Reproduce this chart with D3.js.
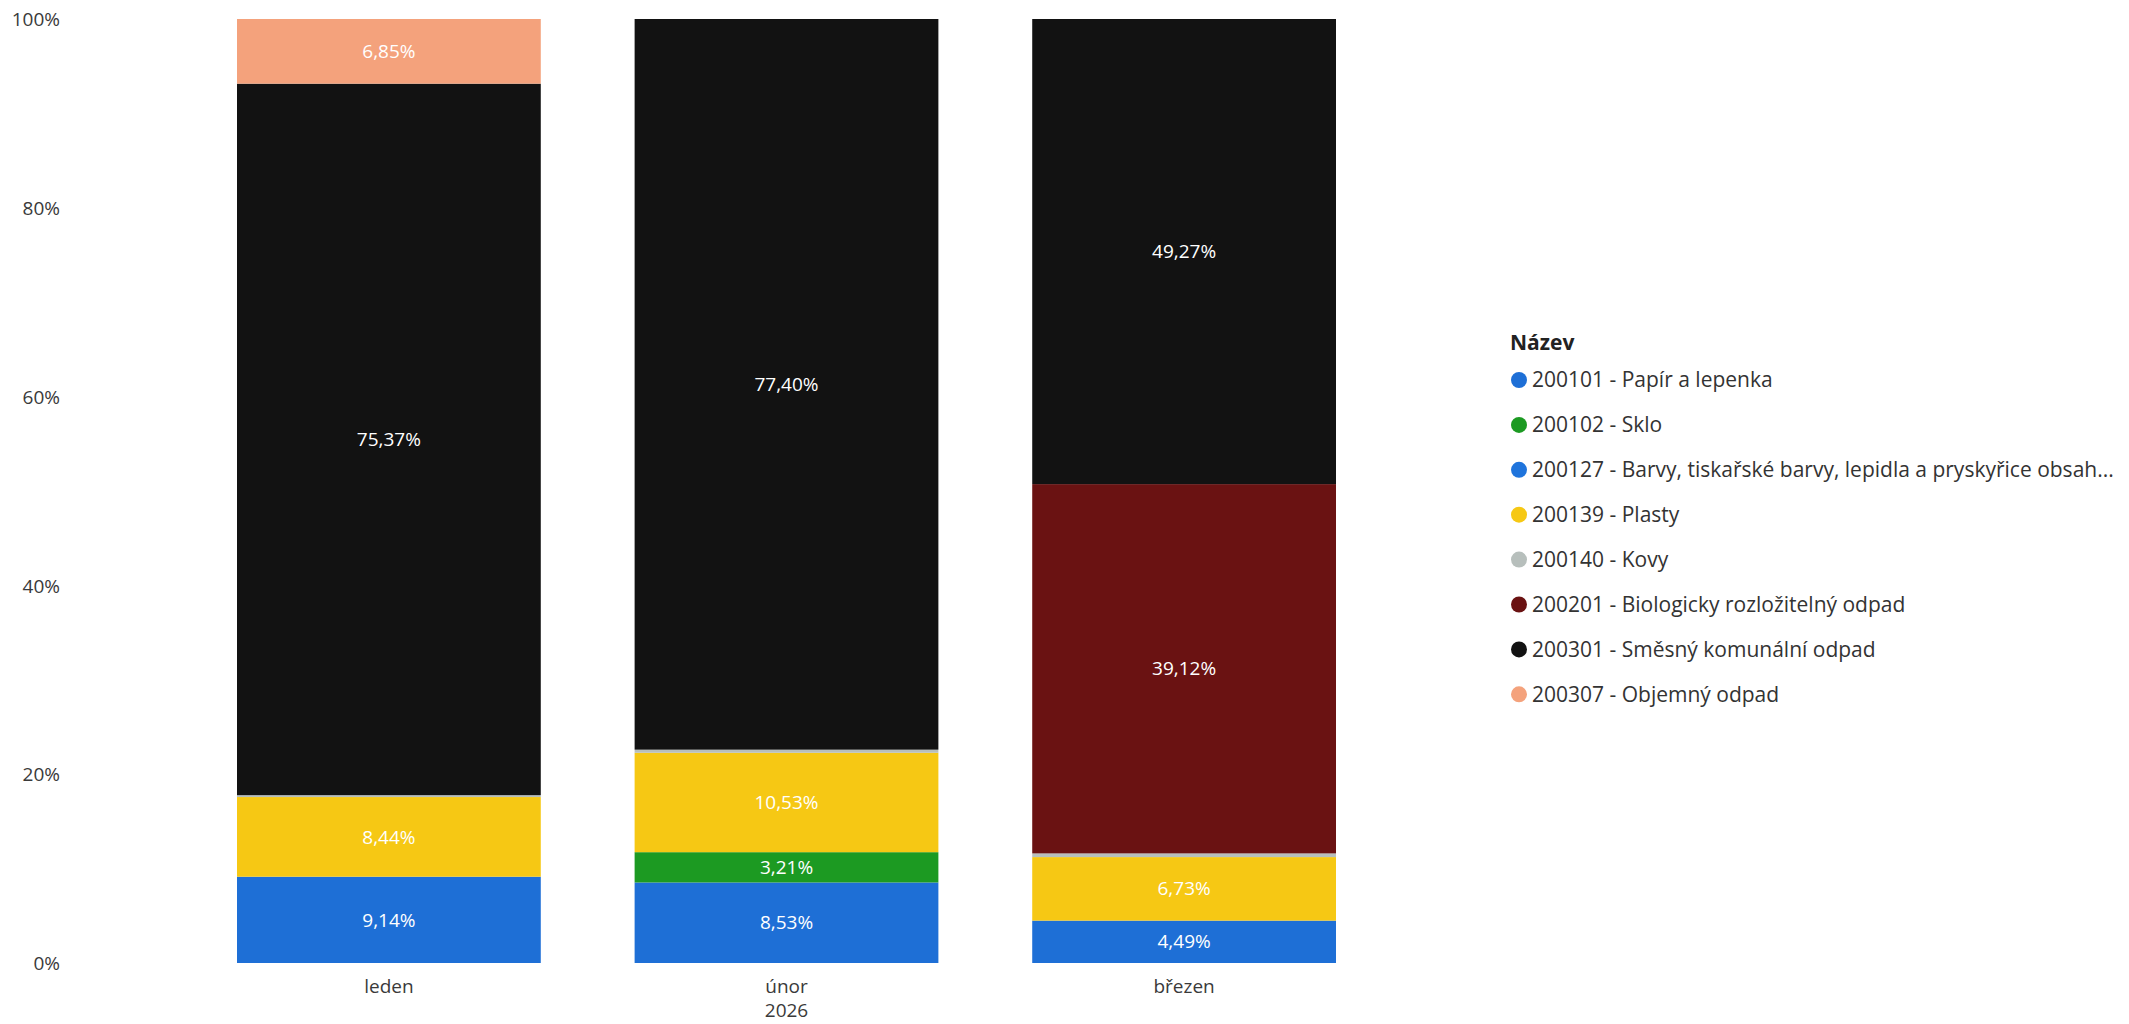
<!DOCTYPE html>
<html>
<head>
<meta charset="utf-8">
<script src="https://cdn.jsdelivr.net/npm/d3@7"></script>
<style>
  html, body { margin: 0; padding: 0; background: #ffffff; }
  svg { display: block; }
  text { font-family: "Open Sans", "Noto Sans", sans-serif; }
</style>
</head>
<body>
<svg id="chart" width="2129" height="1024"></svg>
<script>
// ---- data ----
const categories = ["leden", "únor", "březen"];
const yearLabel = "2026";
const seriesNames = [
  "200101 - Papír a lepenka",
  "200102 - Sklo",
  "200127 - Barvy, tiskařské barvy, lepidla a pryskyřice obsah...",
  "200139 - Plasty",
  "200140 - Kovy",
  "200201 - Biologicky rozložitelný odpad",
  "200301 - Směsný komunální odpad",
  "200307 - Objemný odpad"
];
const papir      = [9.14, 8.53, 4.49];
const sklo       = [0, 3.21, 0];
const barvy      = [0, 0, 0];
const plasty     = [8.44, 10.53, 6.73];
const kovy       = [0.20, 0.33, 0.39];
const bio        = [0, 0, 39.12];
const smesny     = [75.37, 77.40, 49.27];
const objemny    = [6.85, 0, 0];
const yTicks     = [0, 20, 40, 60, 80, 100];
const legendTitle = "Název";
const seriesColors = ["#1E6FD6", "#1C9A22", "#1F74DC", "#F6C814", "#B7BFBC", "#6A1212", "#121212", "#F4A27C"];

// ---- build ----
const seriesValues = [papir, sklo, barvy, plasty, kovy, bio, smesny, objemny];
const table = categories.map((c, i) => {
  const row = { cat: c };
  seriesNames.forEach((s, k) => row[s] = seriesValues[k][i]);
  return row;
});
const stack = d3.stack().keys(seriesNames)(table);

const svg = d3.select("#chart");
const x = d3.scaleBand().domain(categories).range([237, 1336]).paddingInner(0.236).paddingOuter(0);
const y = d3.scaleLinear().domain([0, 100]).range([963, 19]);
const color = d3.scaleOrdinal().domain(seriesNames).range(seriesColors);

// y axis labels
const yAxis = d3.axisLeft(y).tickValues(yTicks).tickSize(0).tickPadding(0).tickFormat(d => d + "%");
const gy = svg.append("g").attr("transform", "translate(60,0)").call(yAxis);
gy.select(".domain").remove();
gy.selectAll("text").attr("fill", "#3a3a3a").style("font-size", "19px")
  .style("font-family", "'Open Sans', sans-serif").attr("dy", "0.35em");

// bars
const layers = svg.append("g").selectAll("g").data(stack).join("g")
  .attr("fill", d => color(d.key));
layers.selectAll("rect").data(d => d.map(p => ({ p, key: d.key }))).join("rect")
  .filter(d => d.p[1] - d.p[0] > 0)
  .attr("x", d => x(d.p.data.cat))
  .attr("width", x.bandwidth())
  .attr("y", d => y(d.p[1]))
  .attr("height", d => y(d.p[0]) - y(d.p[1]));

// data labels
const fmt = v => v.toFixed(2).replace(".", ",") + "%";
const labelData = [];
stack.forEach(s => s.forEach(p => {
  const v = p[1] - p[0];
  if (v >= 1) labelData.push({ cat: p.data.cat, mid: (p[0] + p[1]) / 2, v });
}));
svg.append("g").selectAll("text").data(labelData).join("text")
  .attr("x", d => x(d.cat) + x.bandwidth() / 2)
  .attr("y", d => y(d.mid))
  .attr("dy", "0.35em")
  .attr("text-anchor", "middle")
  .attr("fill", "#ffffff")
  .style("font-size", "19px")
  .text(d => fmt(d.v));

// x axis labels
const xAxis = d3.axisBottom(x).tickSize(0).tickPadding(0);
const gx = svg.append("g").attr("transform", "translate(0,986)").call(xAxis);
gx.select(".domain").remove();
gx.selectAll("text").attr("fill", "#3a3a3a").attr("y", 0).attr("dy", "0.35em")
  .style("font-size", "19px").style("font-family", "'Open Sans', sans-serif");
svg.append("text")
  .attr("x", x(categories[1]) + x.bandwidth() / 2)
  .attr("y", 1010).attr("dy", "0.35em")
  .attr("text-anchor", "middle").attr("fill", "#3a3a3a").style("font-size", "19px")
  .text(yearLabel);

// legend
const lg = svg.append("g");
lg.append("text").attr("x", 1510).attr("y", 343).attr("dy", "0.35em")
  .attr("fill", "#222").style("font-size", "21px").style("font-weight", "700")
  .text(legendTitle);
const items = lg.selectAll("g.item").data(seriesNames).join("g").attr("class", "item")
  .attr("transform", (d, i) => `translate(1519,${380 + i * 44.9})`);
items.append("circle").attr("r", 8).attr("fill", d => color(d));
items.append("text").attr("x", 13).attr("dy", "0.35em").attr("fill", "#333")
  .style("font-size", "21px").text(d => d);
</script>
</body>
</html>
